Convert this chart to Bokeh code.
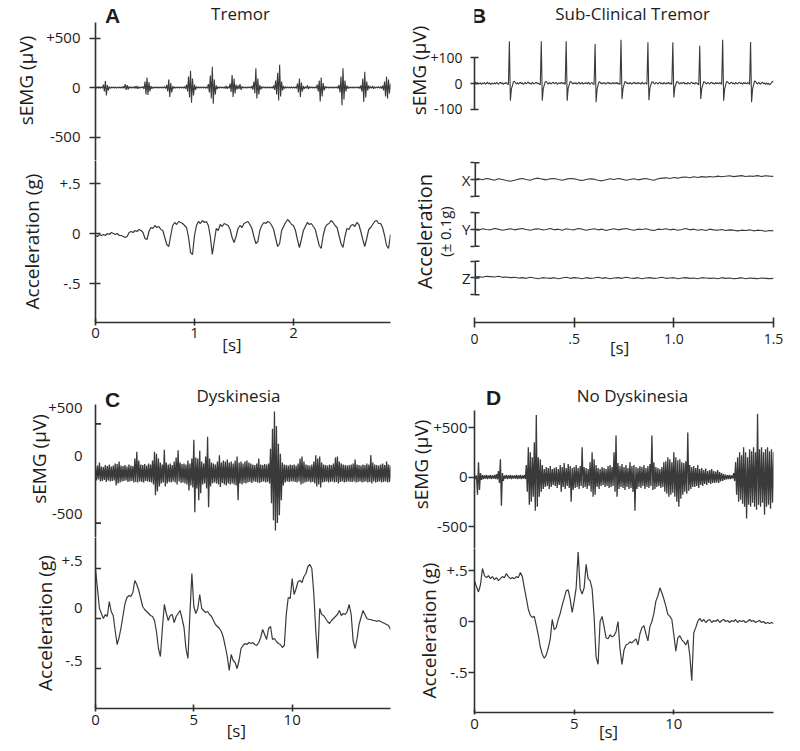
import math
import numpy as np
from bokeh.plotting import figure
from bokeh.models import Range1d, FixedTicker, Label, Title
from bokeh.layouts import column, row
from bokeh.embed import file_html
from bokeh.resources import INLINE

# ======================= DATA =======================
# ---- Panel A : Tremor (sEMG envelope every 0.02 s in uV, acceleration in g)
A_DT = 0.02
A_EMG_HI = [5, 6, 5, 8, 30, 65, 25, 8, 5, 6,
            5, 4, 6, 5, 12, 35, 25, 10, 6, 8,
            12, 15, 8, 6, 10, 60, 100, 55, 15, 6,
            5, 7, 5, 6, 5, 8, 25, 80, 45, 12,
            6, 5, 6, 5, 7, 10, 30, 110, 170, 90,
            30, 10, 6, 5, 6, 5, 8, 35, 120, 210,
            80, 20, 8, 6, 5, 8, 15, 10, 40, 125,
            90, 30, 20, 35, 12, 6, 5, 8, 6, 15,
            60, 195, 90, 25, 10, 6, 5, 7, 5, 8,
            20, 70, 150, 230, 60, 15, 8, 6, 5, 7,
            5, 8, 40, 90, 50, 15, 8, 20, 10, 6,
            5, 8, 30, 70, 100, 45, 12, 6, 5, 7,
            5, 6, 8, 25, 110, 195, 70, 20, 8, 6,
            5, 7, 6, 8, 20, 90, 160, 60, 20, 10,
            15, 8, 6, 10, 8, 20, 60, 110, 80, 40]
A_EMG_LO = [-5, -4, -6, -8, -40, -80, -30, -8, -5, -6,
            -5, -6, -5, -6, -10, -25, -20, -8, -6, -8,
            -10, -12, -8, -5, -15, -70, -75, -40, -12, -6,
            -5, -6, -5, -7, -5, -10, -40, -95, -50, -10,
            -6, -5, -7, -5, -6, -12, -40, -100, -155, -80,
            -25, -8, -5, -6, -5, -7, -10, -50, -110, -165,
            -70, -15, -7, -5, -6, -10, -12, -8, -45, -95,
            -60, -20, -15, -25, -8, -5, -6, -5, -7, -20,
            -60, -110, -70, -20, -8, -5, -6, -5, -6, -8,
            -25, -70, -130, -90, -30, -10, -6, -5, -7, -5,
            -6, -10, -50, -95, -40, -12, -8, -15, -8, -5,
            -6, -8, -40, -140, -90, -30, -8, -5, -6, -5,
            -7, -5, -10, -50, -180, -120, -40, -12, -6, -5,
            -6, -5, -8, -10, -40, -145, -100, -30, -10, -8,
            -12, -6, -5, -8, -10, -30, -90, -112, -60, -30]
A_ACC = [-0.02, -0.03, -0.01, -0.02, -0.01, -0.02, 0.00, -0.01, 0.01, 0.00,
         -0.01, 0.00, -0.02, -0.02, -0.03, -0.04, -0.03, 0.01, 0.02, 0.01,
         0.03, 0.02, 0.04, 0.03, 0.01, -0.05, -0.06, 0.02, 0.06, 0.05,
         0.08, 0.06, 0.07, 0.04, 0.03, -0.04, -0.11, -0.13, -0.02, 0.08,
         0.11, 0.09, 0.12, 0.11, 0.10, 0.08, 0.06, -0.04, -0.19, -0.21,
         -0.02, 0.08, 0.12, 0.10, 0.13, 0.11, 0.12, 0.08, -0.03, -0.21,
         -0.08, 0.05, 0.03, 0.09, 0.07, 0.10, 0.09, 0.08, 0.04, -0.04,
         -0.09, -0.03, 0.05, 0.08, 0.06, 0.10, 0.11, 0.12, 0.09, 0.05,
         -0.03, -0.10, -0.08, 0.03, 0.08, 0.11, 0.10, 0.12, 0.11, 0.08,
         0.04, -0.05, -0.13, -0.10, 0.03, 0.07, 0.11, 0.14, 0.12, 0.09,
         0.08, 0.03, -0.06, -0.14, -0.06, 0.03, 0.07, 0.11, 0.09, 0.10,
         0.07, 0.04, -0.04, -0.12, -0.15, -0.02, 0.06, 0.09, 0.10, 0.13,
         0.11, 0.08, 0.06, -0.02, -0.10, -0.14, -0.03, 0.05, 0.04, 0.08,
         0.09, 0.07, 0.11, 0.09, 0.02, -0.06, -0.13, -0.05, 0.04, 0.06,
         0.09, 0.12, 0.13, 0.10, 0.10, 0.06, -0.02, -0.12, -0.15, -0.01]
A_TIME_TICKS = [0, 1, 2]

EMG_TICKS = [500, 0, -500]
EMG_TICK_LABELS = ["+500", "0", "-500"]
ACC_TICKS = [0.5, 0, -0.5]
ACC_TICK_LABELS = ["+.5", "0", "-.5"]

# ---- Panel B : Sub-clinical tremor (sEMG every 0.005 s in uV, acc every 0.02 s in g)
B_EMG_DT = 0.005
B_EMG = [2, 5, -3, 4, -2, 0, 3, -4, 2, -1, 4, -3, 1, 5, -2, 3, -4, 0, 2, -3,
         3, -2, 4, 1, -3, 2, 5, -1, 3, -4, 2, 0, 4, -2, -4, 164, -67, -22, -8, 6,
         9, 3, -2, 4, -3, 2, 5, -1, 3, -4, 1, 4, -2, 3, 6, -1, 2, -3, 4, 1,
         -2, 3, 5, -1, 2, -3, -5, 164, -67, -20, -6, 7, 8, 2, -3, 4, 1, -2, 3, 5,
         -1, 2, 4, -3, 1, 3, -2, 5, 2, -1, 3, -4, 164, -67, -18, -5, 8, 6, 1, -2,
         4, -1, 3, -3, 2, 5, -2, 1, 4, -3, 2, 0, 3, -2, 5, 1, -3, 2, 4, -2,
         -4, 154, -73, -22, -6, 7, 5, -1, 3, -2, 4, 1, -3, 2, 5, -1, 3, -2, 1, 4,
         -2, 3, 0, 4, -3, 2, -4, 170, -60, -20, -5, 8, 5, -1, 3, -2, 4, 1, -3, 2,
         5, -1, 3, -2, 4, 0, 2, -3, 5, 1, -2, 3, 1, -4, 160, -65, -18, -5, 7, 5,
         1, -2, 4, 2, -3, 3, 5, -1, 2, -3, 4, 1, -2, 3, 0, 4, -2, 2, -4, 160,
         -54, -15, -4, 8, 6, 1, -2, 4, -1, 3, 5, -2, 2, -3, 4, 1, -2, 3, 5, -1,
         2, -3, 4, 1, -2, -5, 147, -60, -20, -6, 7, 6, 1, -2, 4, 2, -3, 3, 5, -1,
         2, -3, 4, 0, 3, -2, 4, 1, -4, 170, -67, -20, -5, 8, 6, 1, -2, 3, 5, -1,
         2, -3, 4, 1, -2, 3, 5, -1, 2, -3, 4, 0, 3, -2, 4, 1, -4, 161, -73, -22,
         -5, 10, 8, 2, -2, 4, 1, -3, 3, 5, -1, 2, -4, 3, -3, 1, -5, -2, 4, 7,
         10]
B_ACC_DT = 0.02
B_ACC_X = [0.000, 0.004, -0.002, 0.006, 0.002, -0.004, 0.004, 0.000, -0.006, -0.010,
           -0.004, 0.002, 0.006, 0.000, -0.004, 0.004, 0.008, 0.002, -0.002, 0.004,
           0.006, 0.000, -0.004, 0.002, 0.006, 0.004, -0.002, -0.006, 0.000, 0.004,
           0.002, -0.004, -0.008, -0.002, 0.004, 0.000, 0.006, 0.002, -0.004, 0.000,
           0.004, -0.002, 0.002, 0.006, 0.000, -0.004, 0.004, 0.008, 0.010, 0.006,
           0.012, 0.008, 0.013, 0.015, 0.010, 0.016, 0.012, 0.017, 0.014, 0.018,
           0.015, 0.020, 0.016, 0.019, 0.022, 0.017, 0.020, 0.023, 0.018, 0.021,
           0.019, 0.023, 0.018, 0.022, 0.020, 0.019]
B_ACC_Y = [0.002, -0.004, 0.004, 0.000, -0.002, 0.006, 0.002, -0.004, 0.000, 0.004,
           -0.002, 0.002, 0.006, 0.000, -0.004, 0.002, 0.004, -0.002, 0.000, 0.006,
           -0.002, 0.002, -0.004, 0.004, 0.000, -0.002, 0.006, 0.002, -0.004, 0.000,
           0.004, -0.002, 0.002, -0.006, 0.000, 0.004, -0.002, 0.002, 0.006, 0.000,
           -0.004, 0.002, 0.000, 0.004, -0.002, -0.006, 0.002, 0.000, 0.004, -0.002,
           0.002, -0.004, 0.000, 0.006, -0.002, 0.002, -0.004, 0.000, -0.006, 0.002,
           -0.002, -0.004, 0.000, -0.006, -0.002, -0.004, -0.008, -0.004, -0.006, -0.002,
           -0.008, -0.004, -0.006, -0.010, -0.006, -0.008]
B_ACC_Z = [0.006, 0.008, 0.004, 0.010, 0.008, 0.006, 0.010, 0.004, 0.006, 0.002,
           0.004, 0.000, 0.002, -0.002, 0.004, 0.000, -0.004, 0.002, 0.000, -0.002,
           0.002, -0.004, 0.000, 0.004, -0.002, 0.002, 0.000, -0.004, 0.002, -0.002,
           0.000, 0.004, -0.002, 0.002, -0.004, 0.000, 0.002, -0.002, 0.004, 0.000,
           -0.002, 0.002, -0.004, 0.000, 0.002, -0.002, 0.000, 0.004, -0.002, 0.000,
           0.002, -0.004, 0.000, 0.002, -0.002, 0.000, -0.004, 0.002, 0.000, -0.002,
           0.000, -0.004, 0.002, -0.002, 0.000, -0.004, -0.002, 0.002, -0.004, 0.000,
           -0.002, -0.004, 0.000, -0.002, -0.004, -0.002]
B_ACC_NAMES = ["X", "Y", "Z"]
B_ACC_BAR = 0.1
B_EMG_TICKS = [100, 0, -100]
B_EMG_TICK_LABELS = ["+100", "0", "-100"]
B_TIME_TICKS = [0, 0.5, 1.0, 1.5]
B_TIME_TICK_LABELS = ["0", ".5", "1.0", "1.5"]

# ---- Panel C : Dyskinesia (sEMG envelope every 0.1 s in uV, acc every 0.1 s in g)
C_DT = 0.1
C_EMG_HI = [60, 80, 110, 70, 65, 85, 75, 90, 70, 80,
            100, 95, 120, 80, 75, 85, 70, 90, 80, 75,
            150, 220, 130, 90, 85, 95, 80, 100, 90, 130,
            220, 200, 150, 110, 90, 240, 110, 90, 100, 85,
            120, 160, 235, 110, 95, 100, 90, 130, 100, 150,
            340, 160, 150, 230, 120, 100, 170, 370, 150, 110,
            100, 90, 120, 185, 110, 130, 120, 140, 110, 120,
            100, 130, 170, 110, 120, 100, 120, 130, 110, 100,
            90, 85, 100, 150, 90, 85, 95, 90, 100, 250,
            450, 625, 480, 300, 200, 110, 90, 85, 80, 90,
            85, 90, 80, 100, 150, 170, 120, 90, 85, 80,
            90, 120, 185, 150, 170, 110, 90, 85, 80, 90,
            85, 100, 160, 170, 120, 100, 90, 85, 80, 85,
            90, 100, 140, 90, 85, 80, 90, 85, 100, 90,
            185, 110, 90, 85, 80, 90, 100, 85, 120, 90,
            80]
C_EMG_LO = [-70, -60, -80, -75, -65, -85, -70, -80, -75, -70,
            -120, -100, -90, -80, -75, -70, -85, -80, -75, -90,
            -85, -90, -80, -85, -90, -75, -80, -85, -90, -110,
            -220, -180, -130, -100, -90, -130, -100, -85, -90, -80,
            -90, -110, -80, -95, -90, -100, -110, -170, -120, -140,
            -390, -150, -270, -200, -110, -100, -150, -340, -130, -100,
            -90, -100, -110, -135, -95, -110, -120, -100, -110, -100,
            -110, -120, -270, -100, -110, -95, -100, -90, -85, -95,
            -80, -85, -90, -95, -85, -80, -90, -85, -100, -300,
            -470, -575, -500, -420, -270, -120, -90, -80, -85, -80,
            -80, -85, -90, -80, -110, -100, -90, -85, -80, -90,
            -85, -100, -130, -110, -140, -90, -85, -80, -90, -85,
            -80, -90, -85, -100, -85, -80, -90, -85, -80, -85,
            -85, -80, -90, -85, -80, -90, -85, -80, -90, -85,
            -100, -80, -90, -85, -80, -90, -85, -80, -90, -85,
            -80]
C_ACC = [0.49, 0.30, 0.10, 0.05, 0.00, 0.04, 0.02, 0.17, 0.07, 0.03,
         -0.12, -0.26, -0.19, -0.09, 0.03, 0.15, 0.21, 0.23, 0.22, 0.26,
         0.38, 0.34, 0.28, 0.20, 0.12, 0.09, 0.07, 0.05, 0.03, 0.02,
         -0.02, -0.13, -0.30, -0.38, -0.10, 0.14, 0.05, -0.02, 0.03, 0.04,
         -0.04, 0.02, 0.05, 0.08, 0.00, -0.09, -0.30, -0.40, 0.04, 0.45,
         0.12, 0.05, 0.10, 0.24, 0.10, 0.08, 0.06, 0.07, 0.04, 0.02,
         -0.02, -0.06, -0.08, -0.10, -0.13, -0.19, -0.28, -0.38, -0.52, -0.36,
         -0.42, -0.44, -0.50, -0.42, -0.30, -0.27, -0.25, -0.26, -0.24, -0.25,
         -0.24, -0.26, -0.27, -0.24, -0.19, -0.11, -0.16, -0.21, -0.10, -0.08,
         -0.21, -0.20, -0.23, -0.25, -0.26, -0.29, -0.27, 0.04, 0.21, 0.20,
         0.40, 0.24, 0.30, 0.37, 0.38, 0.36, 0.42, 0.45, 0.52, 0.54,
         0.50, 0.25, -0.12, -0.40, 0.10, 0.04, 0.03, 0.00, -0.03, -0.05,
         -0.02, 0.00, 0.02, 0.04, 0.08, 0.03, 0.05, 0.04, 0.07, 0.14,
         0.04, -0.22, -0.30, -0.20, -0.06, 0.01, 0.08, 0.04, 0.00, -0.01,
         -0.01, -0.02, -0.02, -0.03, -0.02, -0.03, -0.04, -0.05, -0.06, -0.07,
         -0.11]
CD_TIME_TICKS = [0, 5, 10]

# ---- Panel D : No dyskinesia
D_DT = 0.1
D_EMG_HI = [20, 15, 150, 40, 20, 15, 20, 15, 20, 15,
            20, 30, 60, 180, 40, 15, 20, 15, 20, 15,
            15, 20, 15, 20, 15, 20, 120, 300, 250, 200,
            350, 625, 200, 180, 120, 80, 100, 90, 110, 80,
            90, 100, 80, 120, 100, 140, 90, 130, 110, 90,
            100, 120, 90, 110, 300, 100, 90, 80, 150, 250,
            180, 120, 90, 80, 100, 90, 80, 110, 120, 100,
            250, 420, 140, 110, 130, 100, 120, 90, 150, 110,
            120, 100, 90, 110, 100, 120, 90, 110, 130, 420,
            150, 100, 90, 80, 100, 150, 160, 200, 180, 150,
            250, 200, 170, 180, 150, 140, 160, 450, 120, 100,
            110, 90, 120, 80, 90, 70, 85, 60, 70, 80,
            60, 55, 70, 50, 40, 30, 25, 20, 20, 15,
            40, 150, 200, 250, 220, 300, 250, 200, 280, 260,
            300, 250, 640, 280, 300, 250, 280, 300, 260, 280,
            250]
D_EMG_LO = [-20, -180, -130, -30, -20, -15, -20, -15, -20, -15,
            -20, -25, -60, -290, -40, -15, -20, -15, -20, -15,
            -15, -20, -15, -20, -15, -20, -150, -280, -250, -200,
            -340, -300, -200, -150, -120, -100, -90, -120, -100, -80,
            -90, -110, -80, -150, -100, -120, -90, -110, -250, -130,
            -110, -100, -120, -90, -110, -100, -120, -90, -150, -200,
            -180, -100, -120, -90, -80, -100, -90, -110, -100, -90,
            -150, -200, -120, -100, -110, -130, -100, -120, -110, -150,
            -340, -120, -100, -110, -90, -120, -100, -110, -90, -130,
            -120, -100, -90, -110, -100, -150, -170, -200, -180, -160,
            -200, -250, -300, -220, -180, -150, -170, -140, -120, -100,
            -100, -90, -110, -80, -90, -70, -80, -60, -70, -60,
            -60, -55, -60, -45, -40, -30, -25, -20, -20, -15,
            -40, -180, -250, -230, -270, -300, -420, -280, -300, -260,
            -300, -330, -280, -300, -260, -380, -300, -280, -320, -260,
            -250]
D_ACC = [0.40, 0.34, 0.29, 0.36, 0.52, 0.45, 0.43, 0.45, 0.42, 0.44,
         0.41, 0.43, 0.40, 0.42, 0.44, 0.43, 0.47, 0.44, 0.42, 0.43,
         0.42, 0.44, 0.43, 0.48, 0.44, 0.33, 0.23, 0.12, 0.06, 0.04,
         0.05, -0.04, -0.13, -0.25, -0.32, -0.36, -0.33, -0.26, -0.17, 0.02,
         -0.08, -0.06, 0.02, 0.08, 0.16, 0.23, 0.30, 0.31, 0.22, 0.09,
         0.20, 0.33, 0.68, 0.32, 0.27, 0.33, 0.56, 0.42, 0.40, 0.32,
         0.05, -0.35, -0.42, 0.00, 0.05, -0.05, -0.16, -0.17, -0.13, -0.15,
         -0.14, -0.10, 0.00, -0.27, -0.42, -0.28, -0.23, -0.22, -0.20, -0.21,
         -0.19, -0.17, -0.23, -0.12, -0.06, -0.04, -0.12, -0.19, -0.05, 0.00,
         0.08, 0.20, 0.25, 0.33, 0.28, 0.22, 0.15, 0.07, 0.05, 0.02,
         -0.13, -0.29, -0.16, -0.14, -0.18, -0.20, -0.23, -0.18, -0.33, -0.58,
         -0.11, -0.06, 0.00, 0.03, 0.00, 0.02, -0.01, 0.01, 0.02, -0.01,
         0.01, 0.00, 0.02, -0.01, 0.01, 0.02, 0.00, 0.01, -0.01, 0.01,
         0.00, 0.02, -0.01, 0.01, 0.00, 0.01, -0.01, 0.00, 0.02, 0.00,
         0.01, -0.01, 0.00, 0.01, -0.01, 0.00, -0.02, -0.01, -0.02, -0.01,
         -0.02]

# ======================= STYLE / LAYOUT =======================
FONT = "Open Sans"
LETTER_FONT = "Liberation Sans"
INK = "#303030"
TRACE = "#3a3a3a"
TEXT = "#1c1c1c"
W = 400
NBSP = "\u00a0"
# plot frames in one layout column share their left/right borders
L_LEFT, L_RIGHT = 95, 390
R_LEFT, R_RIGHT = 474, 773


class G:
    """frame geometry (page pixels) + value mapping of one sub-plot"""
    def __init__(self, ox, oy, h, left, right, ftop, fbot, zero, ppu):
        self.ox, self.oy, self.h = ox, oy, h
        self.left, self.right, self.ftop, self.fbot = left, right, ftop, fbot
        self.zero, self.ppu = zero, ppu

    def v(self, sy):
        return (self.zero - sy) / self.ppu

    def sy(self, v):
        return self.zero - v * self.ppu

    def yrange(self):
        return Range1d(self.v(self.fbot), self.v(self.ftop))


def make_fig(g, x_range, with_x=False):
    p = figure(width=W, height=g.h, x_range=x_range, y_range=g.yrange(), title=None,
               output_backend="svg", toolbar_location=None,
               x_axis_location="below" if with_x else None,
               min_border_left=g.left - g.ox, min_border_right=g.ox + W - g.right,
               min_border_top=g.ftop - g.oy, min_border_bottom=g.oy + g.h - g.fbot)
    p.xgrid.visible = False
    p.ygrid.visible = False
    p.outline_line_color = None
    p.background_fill_color = "white"
    p.border_fill_color = "white"
    return p


def style_axis(ax, ticks, labels, tin, tout, standoff, fs):
    ax.ticker = FixedTicker(ticks=list(ticks), minor_ticks=[])
    if labels is not None:
        ax.major_label_overrides = dict(zip(ticks, labels))
    ax.major_tick_in = tin
    ax.major_tick_out = tout
    ax.minor_tick_line_color = None
    ax.major_label_standoff = standoff
    ax.axis_line_color = INK
    ax.axis_line_width = 1.6
    ax.major_tick_line_color = INK
    ax.major_tick_line_width = 1.6
    ax.major_label_text_font = FONT
    ax.major_label_text_font_size = f"{fs}px"
    ax.major_label_text_color = TEXT


def time_axis(p, ticks, labels, tin, tout, standoff, label_standoff, shift=0, fs=15):
    # shift: trailing no-break spaces nudging the centred "[s]" to the left as in the original
    ax = p.xaxis[0]
    style_axis(ax, ticks, labels, tin, tout, standoff, fs)
    ax.axis_label = "[s]" + NBSP * shift
    ax.axis_label_text_font = FONT
    ax.axis_label_text_font_size = "17px"
    ax.axis_label_text_font_style = "normal"
    ax.axis_label_text_color = TEXT
    ax.axis_label_standoff = label_standoff
    return ax


def label(p, g, axis_x, s, sx, sy, size, bold=False, font=FONT):
    p.add_layout(Label(x=0, y=g.v(sy), x_offset=sx - axis_x, text=s,
                       text_font=font, text_font_size=f"{size}px",
                       text_font_style="bold" if bold else "normal",
                       text_align="center", text_baseline="middle", text_color=TEXT))


def side_title(p, g, s, size, center_y, standoff):
    p.add_layout(Title(text=s, align="center", offset=(g.ftop + g.fbot) / 2 - center_y,
                       standoff=standoff, text_font=FONT, text_font_size=f"{size}px",
                       text_font_style="normal", text_color=TEXT), "left")


def zigzag(hi, lo, dt):
    n = len(hi)
    t = np.arange(n) * dt
    xs = np.empty(2 * n)
    ys = np.empty(2 * n)
    xs[0::2] = t
    xs[1::2] = t + dt / 2
    ys[0::2] = hi
    ys[1::2] = lo
    return xs, ys


# ======================= PANEL A =======================
xA = Range1d(0, 2.98)
gA1 = G(0, 0, 160, L_LEFT, L_RIGHT, 0, 160, 87, 49.5 / 500)
gA2 = G(0, 160, 220, L_LEFT, L_RIGHT, 160, 322, 233, 100)
pA1 = make_fig(gA1, xA)
xs, ys = zigzag(A_EMG_HI, A_EMG_LO, A_DT)
pA1.line(xs, ys, line_color=TRACE, line_width=1.1)
style_axis(pA1.yaxis[0], EMG_TICKS, EMG_TICK_LABELS, 5, 6, 9, 15)
pA1.yaxis[0].bounds = (gA1.v(160), gA1.v(22))
label(pA1, gA1, L_LEFT, "A", 112, 15, 21, bold=True, font=LETTER_FONT)
label(pA1, gA1, L_LEFT, "Tremor", 240, 13, 17)
side_title(pA1, gA1, "sEMG (\u00b5V)", 19, 87, 10)

pA2 = make_fig(gA2, xA, with_x=True)
pA2.line(np.arange(len(A_ACC)) * A_DT, A_ACC, line_color=TRACE, line_width=1.2)
style_axis(pA2.yaxis[0], ACC_TICKS, ACC_TICK_LABELS, 5, 6, 9, 15)
time_axis(pA2, A_TIME_TICKS, None, 4, 3, 2, -8, shift=5)
side_title(pA2, gA2, "Acceleration (g)", 19, 239, 23)

# ======================= PANEL B =======================
xB = Range1d(0, 1.5)
gB1 = G(400, 0, 140, R_LEFT, R_RIGHT, 0, 140, 83, 25.7 / 100)
pB1 = make_fig(gB1, xB)
pB1.line(np.arange(len(B_EMG)) * B_EMG_DT, B_EMG, line_color=TRACE, line_width=1.1)
style_axis(pB1.yaxis[0], B_EMG_TICKS, B_EMG_TICK_LABELS, 4, 4, 8, 14)
pB1.yaxis[0].bounds = (min(B_EMG_TICKS), max(B_EMG_TICKS))
label(pB1, gB1, R_LEFT, "B", 478, 15, 21, bold=True, font=LETTER_FONT)
label(pB1, gB1, R_LEFT, "Sub-Clinical Tremor", 632, 13, 17)
side_title(pB1, gB1, "sEMG (\u00b5V)", 19, 86, -9)

# acceleration traces X, Y, Z, each with its own +-0.1 g scale bar
B_ZEROS = [179, 229, 277.5]
gBa = [G(400, 140, 240, R_LEFT, R_RIGHT, 140, 322, z, 167) for z in B_ZEROS]
pBa = make_fig(gBa[0], xB, with_x=True)
pBa.extra_y_ranges = {"acc" + n: g.yrange() for n, g in zip(B_ACC_NAMES[1:], gBa[1:])}
for i, (name, series) in enumerate(zip(B_ACC_NAMES, [B_ACC_X, B_ACC_Y, B_ACC_Z])):
    kw = {} if i == 0 else {"y_range_name": "acc" + name}
    pBa.line(np.arange(len(series)) * B_ACC_DT, series, line_color=TRACE, line_width=1.1, **kw)
    pBa.segment(x0=[0], y0=[-B_ACC_BAR], x1=[0], y1=[B_ACC_BAR], line_color=INK,
                line_width=3.2, **kw)
    pBa.scatter([0, 0, 0], [-B_ACC_BAR, 0, B_ACC_BAR], marker="dash", size=10,
                line_color=INK, line_width=1.6, **kw)
# the left axis gives the outer halves of the bar caps and the X / Y / Z names
yBa = pBa.yaxis[0]
bar_ticks, bar_labels = [], []
for name, g in zip(B_ACC_NAMES, gBa):
    for b, lab in [(-B_ACC_BAR, ""), (0, name), (B_ACC_BAR, "")]:
        bar_ticks.append(round(gBa[0].v(g.sy(b)), 4))
        bar_labels.append(lab)
style_axis(yBa, bar_ticks, bar_labels, 0, 4, 0, 15)
yBa.axis_line_color = None
xBax = time_axis(pBa, B_TIME_TICKS, B_TIME_TICK_LABELS, 5, 5, 6, -11, shift=2, fs=14)
side_title(pBa, gBa[0], "(\u00b1 0.1g)", 15, 242, 8)
side_title(pBa, gBa[0], "Acceleration", 20, 235, -19)

# ======================= PANEL C =======================
xC = Range1d(0, 15)
gC1 = G(0, 380, 157, L_LEFT, L_RIGHT, 380, 537, 473, 49.6 / 500)
gC2 = G(0, 537, 213, L_LEFT, L_RIGHT, 537, 708, 618, 100)
# in the original panel the tick labels sit a little above their tick marks
C_EMG_LABEL_Y = [407, 455, 513]
C_ACC_LABEL_Y = [560, 607, 660]

pC1 = make_fig(gC1, xC)
xs, ys = zigzag(C_EMG_HI, C_EMG_LO, C_DT)
pC1.line(xs, ys, line_color=TRACE, line_width=1.3)
style_axis(pC1.yaxis[0], [round(gC1.v(y), 2) for y in C_EMG_LABEL_Y], EMG_TICK_LABELS, 0, 0, 13, 15)
pC1.yaxis[0].bounds = (gC1.v(537), gC1.v(404))
pC1.scatter([0] * len(EMG_TICKS), EMG_TICKS, marker="dash", size=11, line_color=INK, line_width=1.6)
label(pC1, gC1, L_LEFT, "C", 112, 399, 21, bold=True, font=LETTER_FONT)
label(pC1, gC1, L_LEFT, "Dyskinesia", 238, 395, 17)
side_title(pC1, gC1, "sEMG (\u00b5V)", 19, 460, -12)

pC2 = make_fig(gC2, xC, with_x=True)
pC2.line(np.arange(len(C_ACC)) * C_DT, C_ACC, line_color=TRACE, line_width=1.2)
style_axis(pC2.yaxis[0], [round(gC2.v(y), 3) for y in C_ACC_LABEL_Y], ACC_TICK_LABELS, 0, 0, 13, 15)
pC2.scatter([0] * len(ACC_TICKS), ACC_TICKS, marker="dash", size=11, line_color=INK, line_width=1.6)
time_axis(pC2, CD_TIME_TICKS, None, 4, 3, 3, -9, shift=3)
side_title(pC2, gC2, "Acceleration (g)", 19, 607, 1)

# ======================= PANEL D =======================
xD = Range1d(0, 15)
gD1 = G(400, 380, 168, R_LEFT, R_RIGHT, 380, 548, 476.5, 99 / 1000)
gD2 = G(400, 548, 202, R_LEFT, R_RIGHT, 548, 712, 621, 102)
pD1 = make_fig(gD1, xD)
xs, ys = zigzag(D_EMG_HI, D_EMG_LO, D_DT)
pD1.line(xs, ys, line_color=TRACE, line_width=1.3)
style_axis(pD1.yaxis[0], EMG_TICKS, EMG_TICK_LABELS, 0, 6, 1, 15)
pD1.yaxis[0].bounds = (gD1.v(548), gD1.v(410))
label(pD1, gD1, R_LEFT, "D", 493, 397, 21, bold=True, font=LETTER_FONT)
label(pD1, gD1, R_LEFT, "No Dyskinesia", 632, 395, 17)
side_title(pD1, gD1, "sEMG (\u00b5V)", 19, 475, -6)

pD2 = make_fig(gD2, xD, with_x=True)
pD2.line(np.arange(len(D_ACC)) * D_DT, D_ACC, line_color=TRACE, line_width=1.2)
style_axis(pD2.yaxis[0], ACC_TICKS, ACC_TICK_LABELS, 0, 6, 1, 15)
time_axis(pD2, CD_TIME_TICKS, None, 3, 2, 4, -12, shift=7)
side_title(pD2, gD2, "Acceleration (g)", 19, 627, 3)

layout = row(column(pA1, pA2, pC1, pC2),
             column(pB1, pBa, pD1, pD2))
open("out.html", "w").write(file_html(layout, INLINE))
